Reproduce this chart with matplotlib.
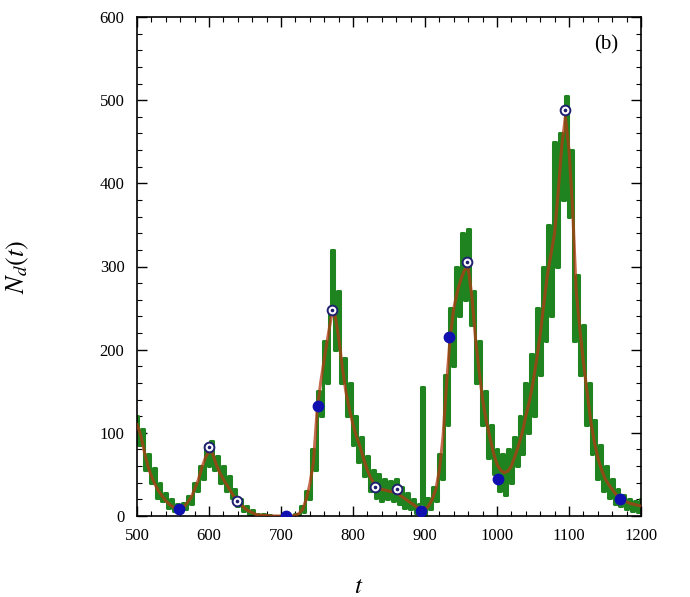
import numpy as np
import matplotlib
import matplotlib.pyplot as plt
from matplotlib.ticker import MultipleLocator

matplotlib.use('Agg')

plt.rcParams['font.family'] = ['Liberation Serif', 'DejaVu Serif']
plt.rcParams['mathtext.fontset'] = 'stix'

# 平滑曲线 (红色), 每 5 个时间单位一个值
red_t = np.arange(500, 1201, 5)
red_v = [110, 98, 78, 60, 48, 38, 30, 24, 18, 14,
         11, 9, 8, 11, 16, 22, 32, 43, 58, 70,
         78, 75, 62, 52, 44, 37, 30, 23, 17, 13,
         9, 6, 4, 2, 1, 1, 0.5, 0, 0, 0,
         0, 0, 0, 0, 1, 3, 8, 20, 38, 64,
         125, 160, 188, 215, 240, 242, 215, 180, 150, 128,
         110, 95, 83, 68, 55, 45, 38, 34, 32, 31,
         30, 29, 28, 25, 22, 19, 16, 13, 10, 8,
         8, 12, 20, 32, 55, 95, 160, 215, 250, 270,
         285, 296, 298, 265, 215, 175, 140, 115, 95, 76,
         62, 55, 52, 54, 60, 72, 85, 100, 120, 138,
         160, 188, 218, 255, 290, 315, 340, 390, 445, 480,
         440, 370, 270, 225, 185, 150, 115, 90, 70, 56,
         45, 38, 32, 26, 22, 19, 17, 15, 14, 13,
         12]

# 噪声数据 (绿色), 每 4 个时间单位一个值
green_t = np.arange(500, 1201, 4)
green_v = [120, 85, 105, 55, 75, 40, 58, 22, 40, 18,
           28, 10, 20, 6, 14, 5, 16, 9, 24, 14,
           40, 30, 60, 45, 85, 60, 90, 55, 72, 40,
           60, 30, 48, 22, 32, 12, 20, 6, 12, 3,
           7, 1, 3, 0, 2, 0, 1, 0, 0, 0,
           0, 0, 0, 0, 0, 2, 0, 12, 5, 30,
           20, 80, 55, 150, 120, 210, 160, 250, 320, 200,
           270, 160, 190, 120, 160, 85, 120, 65, 95, 48,
           72, 30, 55, 22, 50, 18, 45, 20, 42, 18,
           45, 15, 35, 10, 28, 8, 20, 4, 14, 155,
           3, 22, 8, 35, 18, 75, 45, 170, 110, 250,
           180, 300, 240, 340, 260, 345, 230, 270, 160, 210,
           110, 150, 70, 110, 50, 80, 30, 75, 25, 80,
           40, 95, 60, 120, 75, 160, 100, 195, 120, 250,
           170, 300, 210, 350, 240, 450, 300, 460, 380, 505,
           360, 440, 210, 290, 170, 230, 110, 160, 75, 115,
           45, 85, 30, 60, 22, 45, 15, 32, 12, 25,
           8, 20, 6, 18, 5, 20]

# 标记点
fill_t = [558, 707, 751, 895, 934, 1001, 1171]
fill_v = [8, 0, 132, 6, 215, 45, 20]
open_t = [600, 639, 771, 830, 861, 958, 1095]
open_v = [83, 18, 248, 35, 33, 306, 488]

fig = plt.figure(figsize=(6.9, 5.97), dpi=100)
ax = fig.add_axes([137 / 690, 81 / 597, 504 / 690, 499 / 597])

ax.plot(green_t, green_v, color='#1f841f', lw=2.2, drawstyle='steps-mid', zorder=2)
ax.plot(red_t, red_v, color='#b33a12', lw=2.2, alpha=0.75, zorder=3)

ax.plot(fill_t, fill_v, 'o', color='#1010b0', ms=7.5, zorder=5)
ax.plot(open_t, open_v, 'o', mfc='white', mec='#202070', mew=1.4, ms=7, zorder=5)
ax.plot(open_t, open_v, 'o', color='#202070', ms=1.6, zorder=6)

ax.set_xlim(500, 1200)
ax.set_ylim(0, 600)
ax.xaxis.set_major_locator(MultipleLocator(100))
ax.xaxis.set_minor_locator(MultipleLocator(20))
ax.yaxis.set_major_locator(MultipleLocator(100))
ax.yaxis.set_minor_locator(MultipleLocator(20))
ax.tick_params(which='both', direction='in', top=True, right=True, labelsize=12)
ax.tick_params(which='major', length=7, width=1)
ax.tick_params(which='minor', length=3.5, width=0.8)
ax.tick_params(axis='x', which='major', pad=9)
ax.tick_params(axis='y', which='major', pad=9)
for s in ax.spines.values():
    s.set_linewidth(1.2)

ax.set_xlabel('$t$', fontsize=18)
ax.set_ylabel('$N_d(t)$', fontsize=19)
ax.xaxis.set_label_coords(0.44, -0.12)
ax.yaxis.set_label_coords(-0.21, 0.5)

ax.text(0.955, 0.945, '(b)', transform=ax.transAxes, ha='right', va='center', fontsize=15)

fig.savefig('out.png', dpi=100)
plt.close(fig)
